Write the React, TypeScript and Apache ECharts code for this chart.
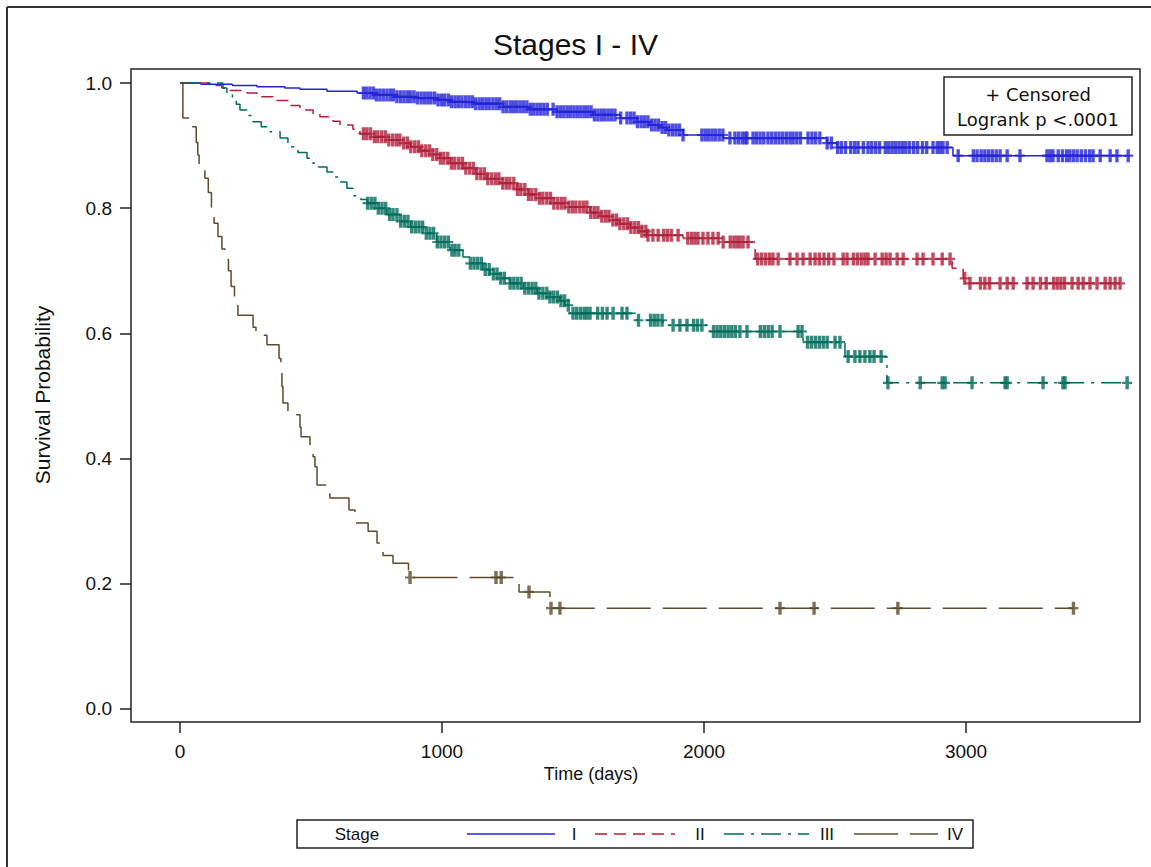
import React, { useEffect, useRef } from "react";
import * as echarts from "echarts";

// ---------- data (time in days, survival probability) ----------
const stageNames = ["I", "II", "III", "IV"];
const stageColors = ["#2323d9", "#b01f3b", "#006b5a", "#5c4b2c"];

const xTickValues = [0, 1000, 2000, 3000];
const yTickValues = [0, 0.2, 0.4, 0.6, 0.8, 1.0];

const stageISteps: [number, number][] = [
  [0, 1], [80, 0.998], [200, 0.996], [294, 0.994], [400, 0.992], [458, 0.99],
  [561, 0.987], [676, 0.984], [740, 0.981], [820, 0.978], [900, 0.976], [980, 0.973],
  [1031, 0.97], [1120, 0.967], [1233, 0.962], [1330, 0.958], [1439, 0.954], [1576, 0.949],
  [1679, 0.944], [1744, 0.938], [1790, 0.933], [1830, 0.929], [1859, 0.925], [1920, 0.917],
  [2073, 0.912], [2469, 0.904], [2508, 0.897], [2950, 0.884], [3626, 0.884],
];
const stageICensored: number[] = [
  700, 712, 725, 738, 750, 763, 776, 790, 803, 815, 828, 842, 855, 868, 880, 893, 906, 920,
  933, 946, 958, 972, 985, 998, 1010, 1024, 1037, 1050, 1063, 1076, 1090, 1103, 1116, 1128,
  1142, 1155, 1168, 1180, 1194, 1207, 1220, 1233, 1246, 1260, 1272, 1285, 1298, 1311, 1324,
  1337, 1350, 1363, 1376, 1389, 1402, 1424, 1439, 1452, 1465, 1478, 1491, 1504, 1517, 1530,
  1543, 1556, 1569, 1582, 1595, 1608, 1621, 1634, 1647, 1660, 1682, 1706, 1720, 1733, 1746,
  1760, 1773, 1786, 1800, 1813, 1826, 1840, 1853, 1866, 1880, 1893, 1906, 1920, 1992, 2005,
  2018, 2031, 2044, 2058, 2072, 2099, 2118, 2132, 2146, 2157, 2164, 2187, 2200, 2214, 2228,
  2244, 2258, 2272, 2286, 2300, 2314, 2328, 2340, 2354, 2368, 2397, 2412, 2426, 2442, 2470,
  2486, 2510, 2524, 2540, 2560, 2575, 2588, 2608, 2626, 2640, 2655, 2670, 2692, 2705, 2718,
  2731, 2744, 2757, 2770, 2784, 2800, 2815, 2834, 2850, 2874, 2890, 2901, 2912, 2928, 2970,
  3028, 3042, 3058, 3072, 3086, 3100, 3115, 3130, 3157, 3206, 3309, 3321, 3332, 3352, 3368,
  3384, 3396, 3410, 3424, 3440, 3456, 3472, 3485, 3512, 3550, 3576, 3619,
];

const stageIISteps: [number, number][] = [
  [0, 1], [115, 0.996], [160, 0.992], [191, 0.988], [256, 0.984], [294, 0.978], [355, 0.972],
  [420, 0.964], [458, 0.957], [508, 0.951], [534, 0.946], [584, 0.939], [611, 0.933],
  [660, 0.926], [687, 0.919], [740, 0.914], [790, 0.909], [840, 0.904], [880, 0.898],
  [916, 0.892], [960, 0.886], [992, 0.88], [1031, 0.872], [1080, 0.864], [1130, 0.855],
  [1172, 0.847], [1221, 0.84], [1286, 0.83], [1330, 0.822], [1363, 0.816], [1420, 0.808],
  [1477, 0.802], [1565, 0.793], [1603, 0.787], [1641, 0.781], [1679, 0.775], [1718, 0.769],
  [1756, 0.763], [1782, 0.757], [1920, 0.752], [2061, 0.746], [2195, 0.719], [2947, 0.704],
  [2989, 0.688], [3004, 0.68], [3588, 0.68],
];
const stageIICensored: number[] = [
  700, 713, 727, 742, 755, 770, 784, 797, 812, 826, 839, 854, 868, 881, 896, 910, 923, 938,
  952, 965, 980, 994, 1007, 1022, 1036, 1049, 1064, 1078, 1091, 1106, 1120, 1133, 1148, 1162,
  1175, 1190, 1204, 1217, 1232, 1246, 1259, 1274, 1288, 1301, 1316, 1330, 1343, 1358, 1372,
  1385, 1400, 1414, 1427, 1442, 1456, 1469, 1484, 1498, 1511, 1526, 1540, 1553, 1568, 1582,
  1595, 1610, 1624, 1637, 1652, 1666, 1679, 1694, 1708, 1721, 1736, 1750, 1763, 1778, 1786,
  1805, 1825, 1846, 1860, 1875, 1901, 1938, 1952, 1965, 1977, 1996, 2015, 2034, 2054, 2073,
  2100, 2114, 2126, 2137, 2149, 2168, 2205, 2220, 2235, 2250, 2263, 2283, 2328, 2355, 2378,
  2405, 2424, 2440, 2458, 2476, 2496, 2531, 2546, 2570, 2585, 2600, 2614, 2626, 2653, 2680,
  2695, 2710, 2737, 2760, 2813, 2836, 2874, 2909, 2939, 2995, 3015, 3055, 3072, 3090, 3130,
  3157, 3180, 3233, 3256, 3284, 3306, 3334, 3348, 3362, 3376, 3405, 3428, 3447, 3473, 3500,
  3531, 3550, 3569, 3588,
];

const stageIIISteps: [number, number][] = [
  [0, 1], [164, 0.992], [179, 0.985], [200, 0.975], [215, 0.966], [229, 0.957], [256, 0.948],
  [279, 0.938], [310, 0.93], [344, 0.922], [382, 0.912], [412, 0.898], [450, 0.889],
  [485, 0.88], [508, 0.872], [523, 0.866], [561, 0.858], [585, 0.85], [611, 0.842],
  [637, 0.832], [660, 0.82], [690, 0.814], [714, 0.808], [750, 0.8], [790, 0.79], [840, 0.779],
  [880, 0.77], [930, 0.76], [980, 0.746], [1031, 0.733], [1080, 0.722], [1107, 0.712],
  [1156, 0.702], [1183, 0.695], [1220, 0.688], [1260, 0.68], [1310, 0.672], [1363, 0.664],
  [1412, 0.658], [1450, 0.652], [1469, 0.645], [1489, 0.632], [1744, 0.621], [1844, 0.613],
  [2023, 0.603], [2378, 0.586], [2538, 0.563], [2698, 0.521], [3618, 0.521],
];
const stageIIICensored: number[] = [
  716, 730, 744, 757, 771, 785, 800, 813, 828, 842, 856, 870, 884, 898, 912, 926, 940, 954,
  968, 982, 996, 1010, 1024, 1038, 1050, 1064, 1108, 1122, 1136, 1150, 1165, 1180, 1196,
  1210, 1224, 1238, 1260, 1274, 1288, 1302, 1316, 1330, 1344, 1358, 1370, 1385, 1400, 1412,
  1426, 1440, 1454, 1468, 1482, 1500, 1514, 1528, 1542, 1553, 1565, 1594, 1612, 1630, 1653,
  1687, 1706, 1750, 1796, 1810, 1824, 1840, 1882, 1908, 1935, 1960, 1975, 1992, 2036, 2050,
  2064, 2078, 2092, 2106, 2120, 2137, 2164, 2215, 2230, 2245, 2260, 2290, 2359, 2374, 2395,
  2410, 2425, 2440, 2455, 2470, 2500, 2519, 2550, 2576, 2595, 2614, 2633, 2649, 2676, 2702,
  2825, 2909, 2920, 3023, 3149, 3157, 3294, 3370, 3378, 3615,
];

const stageIVSteps: [number, number][] = [
  [0, 1], [11, 0.944], [33, 0.93], [62, 0.905], [68, 0.885], [73, 0.866], [95, 0.848],
  [108, 0.825], [120, 0.8], [130, 0.776], [145, 0.755], [160, 0.735], [172, 0.718],
  [185, 0.7], [195, 0.675], [208, 0.648], [221, 0.629], [279, 0.61], [290, 0.597],
  [332, 0.582], [378, 0.56], [385, 0.537], [389, 0.515], [393, 0.489], [412, 0.47],
  [458, 0.45], [462, 0.435], [496, 0.42], [508, 0.403], [515, 0.387], [523, 0.358],
  [572, 0.337], [645, 0.318], [668, 0.297], [718, 0.284], [752, 0.265], [775, 0.245],
  [813, 0.233], [872, 0.21], [1294, 0.187], [1412, 0.161], [3410, 0.161],
];
const stageIVCensored: number[] = [878, 1206, 1226, 1332, 1416, 1450, 2290, 2420, 2740, 3410];

const allSteps = [stageISteps, stageIISteps, stageIIISteps, stageIVSteps];
const allCensored = [stageICensored, stageIICensored, stageIIICensored, stageIVCensored];
const dashPatterns: any[] = ["solid", [12, 7], [20, 7, 3, 7], [44, 12]];

function survivalAt(steps: [number, number][], t: number): number {
  let s = steps[0][1];
  for (const [tt, v] of steps) {
    if (tt <= t) s = v;
    else break;
  }
  return s;
}

const plusSymbol = "path://M3.3,0H6.7V5H10V7H6.7V12H3.3V7H0V5H3.3Z";
const FONT = "'Liberation Sans', Arial, sans-serif";

export default function App() {
  const ref = useRef<HTMLDivElement>(null);
  useEffect(() => {
    if (!ref.current) return;
    const chart = echarts.init(ref.current, undefined, { renderer: "svg" });
    const series: any[] = [];
    stageNames.forEach((name, i) => {
      series.push({
        name,
        type: "line",
        step: "end",
        showSymbol: false,
        data: allSteps[i],
        lineStyle: { color: stageColors[i], width: 1.5, type: dashPatterns[i] },
        z: 2,
      });
    });
    stageNames.forEach((name, i) => {
      series.push({
        name: name + " censored",
        type: "scatter",
        symbol: plusSymbol,
        symbolSize: [10, 13],
        itemStyle: { color: stageColors[i] },
        data: allCensored[i].map((t) => [t, survivalAt(allSteps[i], t)]),
        z: 3,
      });
    });

    const legendItems: any[] = [];
    const legendLines = [
      { x1: 467, x2: 555, lx: 574, label: "I" },
      { x1: 595, x2: 675, lx: 700, label: "II" },
      { x1: 724, x2: 809, lx: 827, label: "III" },
      { x1: 854, x2: 938, lx: 955, label: "IV" },
    ];
    legendLines.forEach((l, i) => {
      legendItems.push({
        type: "line",
        shape: { x1: l.x1, y1: 834, x2: l.x2, y2: 834 },
        style: {
          stroke: stageColors[i],
          lineWidth: 1.5,
          lineDash: dashPatterns[i] === "solid" ? null : dashPatterns[i],
        },
      });
      legendItems.push({
        type: "text",
        x: l.lx,
        y: 834,
        style: { text: l.label, font: `17px ${FONT}`, fill: "#111", align: "center", verticalAlign: "middle" },
      });
    });

    chart.setOption({
      animation: false,
      backgroundColor: "#ffffff",
      title: {
        text: "Stages I - IV",
        left: "center",
        top: 24,
        textStyle: { fontFamily: FONT, fontSize: 30, fontWeight: "normal", color: "#111" },
      },
      grid: {
        left: 131,
        top: 69,
        width: 1009,
        height: 653,
        show: true,
        borderColor: "#222",
        borderWidth: 1.5,
        backgroundColor: "transparent",
      },
      xAxis: {
        type: "value",
        min: -187,
        max: 3664,
        axisLine: { show: false, onZero: false },
        splitLine: { show: false },
        axisTick: {
          show: true,
          length: 11,
          customValues: xTickValues,
          lineStyle: { color: "#222", width: 1.5 },
        },
        axisLabel: {
          customValues: xTickValues,
          margin: 20,
          fontFamily: FONT,
          fontSize: 19,
          color: "#111",
          formatter: (v: number) => String(v),
        },
      },
      yAxis: {
        type: "value",
        min: -0.0208,
        max: 1.0224,
        axisLine: { show: false, onZero: false },
        splitLine: { show: false },
        axisTick: {
          show: true,
          length: 11,
          customValues: yTickValues,
          lineStyle: { color: "#222", width: 1.5 },
        },
        axisLabel: {
          customValues: yTickValues,
          margin: 19,
          fontFamily: FONT,
          fontSize: 19,
          color: "#111",
          formatter: (v: number) => v.toFixed(1),
        },
      },
      series,
      graphic: [
        { type: "line", shape: { x1: 7, y1: 7, x2: 1151, y2: 7 }, style: { stroke: "#333", lineWidth: 2 } },
        { type: "line", shape: { x1: 7, y1: 7, x2: 7, y2: 867 }, style: { stroke: "#333", lineWidth: 2 } },
        {
          type: "text",
          x: 42,
          y: 395,
          rotation: Math.PI / 2,
          style: { text: "Survival Probability", font: `21px ${FONT}`, fill: "#111", align: "center", verticalAlign: "middle" },
        },
        {
          type: "text",
          x: 591,
          y: 774,
          style: { text: "Time (days)", font: `18px ${FONT}`, fill: "#111", align: "center", verticalAlign: "middle" },
        },
        {
          type: "rect",
          shape: { x: 944, y: 77, width: 188, height: 58 },
          style: { fill: "#fff", stroke: "#222", lineWidth: 1.5 },
          z: 100,
        },
        {
          type: "text",
          x: 1038,
          y: 94,
          z: 101,
          style: { text: "+ Censored", font: "18px 'DejaVu Sans', sans-serif", fill: "#111", align: "center", verticalAlign: "middle" },
        },
        {
          type: "text",
          x: 1038,
          y: 119,
          z: 101,
          style: { text: "Logrank p <.0001", font: "18px 'DejaVu Sans', sans-serif", fill: "#111", align: "center", verticalAlign: "middle" },
        },
        {
          type: "rect",
          shape: { x: 297, y: 820, width: 676, height: 28 },
          style: { fill: "#fff", stroke: "#222", lineWidth: 1.5 },
        },
        {
          type: "text",
          x: 357,
          y: 834,
          style: { text: "Stage", font: `17px ${FONT}`, fill: "#111", align: "center", verticalAlign: "middle" },
        },
        ...legendItems,
      ],
    });
    return () => chart.dispose();
  }, []);
  return (
    <div
      ref={ref}
      style={{ position: "absolute", left: 0, top: 0, width: 1151, height: 867 }}
    />
  );
}
